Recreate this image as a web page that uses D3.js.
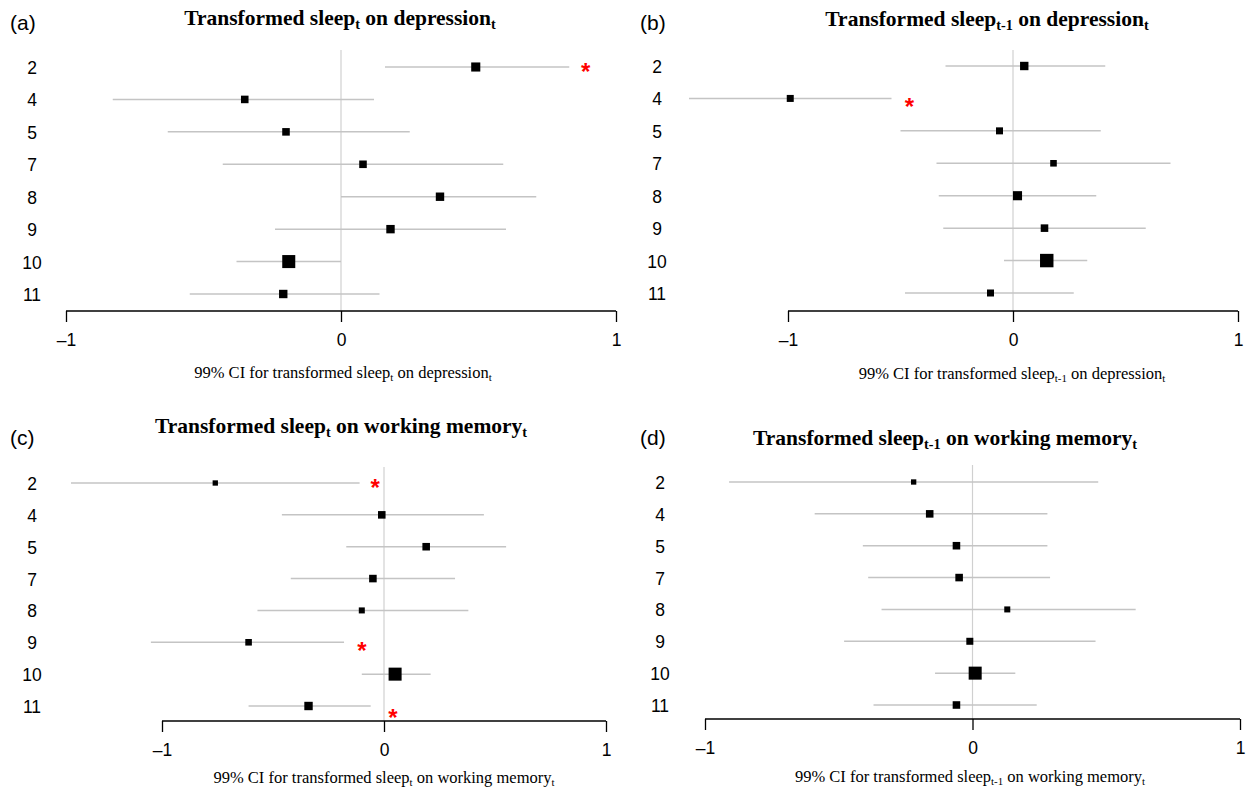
<!DOCTYPE html>
<html>
<head>
<meta charset="utf-8">
<script src="https://cdn.jsdelivr.net/npm/d3@7"></script>
<style>
  body { margin: 0; background: #fff; }
  svg { display: block; }
</style>
</head>
<body>
<svg id="chart" width="1246" height="790"></svg>
<script>
// studies (rows), same for every panel
const rows = ["2", "4", "5", "7", "8", "9", "10", "11"]
const xTicks = [-1, 0, 1]

// (a) sleep_t on depression_t
const estA = [0.49, -0.35, -0.20, 0.08, 0.36, 0.18, -0.19, -0.21]
const loA  = [0.16, -0.83, -0.63, -0.43, 0.00, -0.24, -0.38, -0.55]
const hiA  = [0.83, 0.12, 0.25, 0.59, 0.71, 0.60, 0.00, 0.14]
const wtA  = [0.65, 0.54, 0.54, 0.54, 0.6, 0.6, 0.93, 0.6]
const starsA = [{row: "2", x: 0.89}]

// (b) sleep_t-1 on depression_t
const estB = [0.05, -0.99, -0.06, 0.18, 0.02, 0.14, 0.15, -0.10]
const loB  = [-0.30, -1.44, -0.50, -0.34, -0.33, -0.31, -0.04, -0.48]
const hiB  = [0.41, -0.54, 0.39, 0.70, 0.37, 0.59, 0.33, 0.27]
const wtB  = [0.6, 0.5, 0.5, 0.47, 0.65, 0.54, 0.96, 0.5]
const starsB = [{row: "4", x: -0.46}]

// (c) sleep_t on working memory_t
const estC = [-0.76, -0.01, 0.19, -0.05, -0.10, -0.61, 0.05, -0.34]
const loC  = [-1.41, -0.46, -0.17, -0.42, -0.57, -1.05, -0.10, -0.61]
const hiC  = [-0.11, 0.45, 0.55, 0.32, 0.38, -0.18, 0.21, -0.06]
const wtC  = [0.38, 0.54, 0.54, 0.54, 0.43, 0.47, 0.93, 0.6]
const starsC = [{row: "2", x: -0.04}, {row: "9", x: -0.10}, {row: "11", x: 0.04}]

// (d) sleep_t-1 on working memory_t
const estD = [-0.22, -0.16, -0.06, -0.05, 0.13, -0.01, 0.01, -0.06]
const loD  = [-0.91, -0.59, -0.41, -0.39, -0.34, -0.48, -0.14, -0.37]
const hiD  = [0.47, 0.28, 0.28, 0.29, 0.61, 0.46, 0.16, 0.24]
const wtD  = [0.38, 0.54, 0.54, 0.54, 0.43, 0.5, 0.93, 0.54]
const starsD = []

const svg = d3.select("#chart")
const serif = "'Liberation Serif', 'Times New Roman', serif"
const sans = "'Liberation Sans', Arial, sans-serif"
const side = d3.scaleLinear().domain([0, 1]).range([0, 14])

// panel frames (layout only)
const panels = [
  {tag: "(a)", pre: "Transformed sleep", lag: "t", outcome: "depression",
   est: estA, lo: loA, hi: hiA, wt: wtA, stars: starsA,
   x0: 66, x1: 616, y0: 67, y1: 294, axisY: 311, lineTop: 50, rowX: 32,
   tagX: 10, tagY: 30, titleX: 340, titleY: 29, labX: 343, labY: 381},
  {tag: "(b)", pre: "Transformed sleep", lag: "t-1", outcome: "depression",
   est: estB, lo: loB, hi: hiB, wt: wtB, stars: starsB,
   x0: 788, x1: 1238, y0: 66, y1: 293, axisY: 311, lineTop: 50, rowX: 657,
   tagX: 640, tagY: 30, titleX: 987, titleY: 30, labX: 1012, labY: 382},
  {tag: "(c)", pre: "Transformed sleep", lag: "t", outcome: "working memory",
   est: estC, lo: loC, hi: hiC, wt: wtC, stars: starsC,
   x0: 162, x1: 606, y0: 483, y1: 706, axisY: 721, lineTop: 467, rowX: 32,
   tagX: 10, tagY: 445, titleX: 341, titleY: 437, labX: 384, labY: 786},
  {tag: "(d)", pre: "Transformed sleep", lag: "t-1", outcome: "working memory",
   est: estD, lo: loD, hi: hiD, wt: wtD, stars: starsD,
   x0: 705, x1: 1240, y0: 482, y1: 705, axisY: 719, lineTop: 465, rowX: 660,
   tagX: 640, tagY: 445, titleX: 945, titleY: 449, labX: 970, labY: 785}
]

// star nudges below the row line
const starDy = {"(a)2": 0, "(b)4": 4, "(c)2": 0, "(c)9": 4, "(c)11": 7}

// text with subscripts: parts = [[text, isSub], ...]
function subText(sel, parts, size){
  parts.forEach(function(p){
    if(p[1]){
      sel.append("tspan").attr("font-size", size*0.66).attr("dy", size*0.2).text(p[0])
    } else {
      sel.append("tspan").attr("dy", sel.selectAll("tspan").size() ? -size*0.2 : 0).text(p[0])
    }
  })
}

panels.forEach(function(p){
  const x = d3.scaleLinear().domain([-1, 1]).range([p.x0, p.x1])
  const y = d3.scalePoint().domain(rows).range([p.y0, p.y1])
  const g = svg.append("g")

  // panel tag
  g.append("text").attr("x", p.tagX).attr("y", p.tagY)
    .attr("font-family", sans).attr("font-size", 21).text(p.tag)

  // title
  const t = g.append("text").attr("x", p.titleX).attr("y", p.titleY)
    .attr("text-anchor", "middle").attr("font-family", serif)
    .attr("font-weight", "bold").attr("font-size", 21.5)
  subText(t, [[p.pre, false], [p.lag, true], [" on " + p.outcome, false], ["t", true]], 21.5)

  // zero line
  g.append("line").attr("x1", x(0)).attr("x2", x(0))
    .attr("y1", p.lineTop).attr("y2", p.axisY)
    .attr("stroke", "#d0d0d0").attr("stroke-width", 1.2)

  const d = rows.map((r, i) => ({row: r, est: p.est[i], lo: p.lo[i], hi: p.hi[i], wt: p.wt[i]}))

  // CIs
  g.selectAll(".ci").data(d).enter().append("line")
    .attr("x1", v => x(v.lo)).attr("x2", v => x(v.hi))
    .attr("y1", v => y(v.row)).attr("y2", v => y(v.row))
    .attr("stroke", "#c4c4c4").attr("stroke-width", 1.5)

  // point estimates
  g.selectAll(".pt").data(d).enter().append("rect")
    .attr("x", v => x(v.est) - side(v.wt)/2).attr("y", v => y(v.row) - side(v.wt)/2)
    .attr("width", v => side(v.wt)).attr("height", v => side(v.wt))
    .attr("fill", "#000")

  // row labels
  g.selectAll(".rl").data(rows).enter().append("text")
    .attr("x", p.rowX).attr("y", r => y(r) + 7)
    .attr("text-anchor", "middle").attr("font-family", sans).attr("font-size", 17.5)
    .text(r => r)

  // significance stars
  g.selectAll(".star").data(p.stars).enter().append("text")
    .attr("x", s => x(s.x)).attr("y", s => y(s.row) + 13 + (starDy[p.tag + s.row] || 0))
    .attr("text-anchor", "middle").attr("fill", "#f00")
    .attr("font-family", sans).attr("font-weight", "bold").attr("font-size", 24)
    .text("*")

  // x axis (ticks hang down)
  const ax = g.append("g").attr("transform", "translate(0," + p.axisY + ")")
    .call(d3.axisBottom(x).tickValues(xTicks).tickSize(11).tickFormat(v => v < 0 ? "\u2013" + Math.abs(v) : v))
  ax.select(".domain").attr("d", "M" + p.x0 + ",0H" + p.x1).attr("stroke-width", 1.3)
  ax.selectAll(".tick line").attr("stroke-width", 1.3)
  ax.selectAll(".tick text").attr("font-family", sans).attr("font-size", 17.5)
    .attr("fill", "#000").attr("y", 23)

  // x label
  const lab = g.append("text").attr("x", p.labX).attr("y", p.labY)
    .attr("text-anchor", "middle").attr("font-family", serif).attr("font-size", 16.5)
  subText(lab, [["99% CI for transformed sleep", false], [p.lag, true], [" on " + p.outcome, false], ["t", true]], 16.5)
})
</script>
</body>
</html>
